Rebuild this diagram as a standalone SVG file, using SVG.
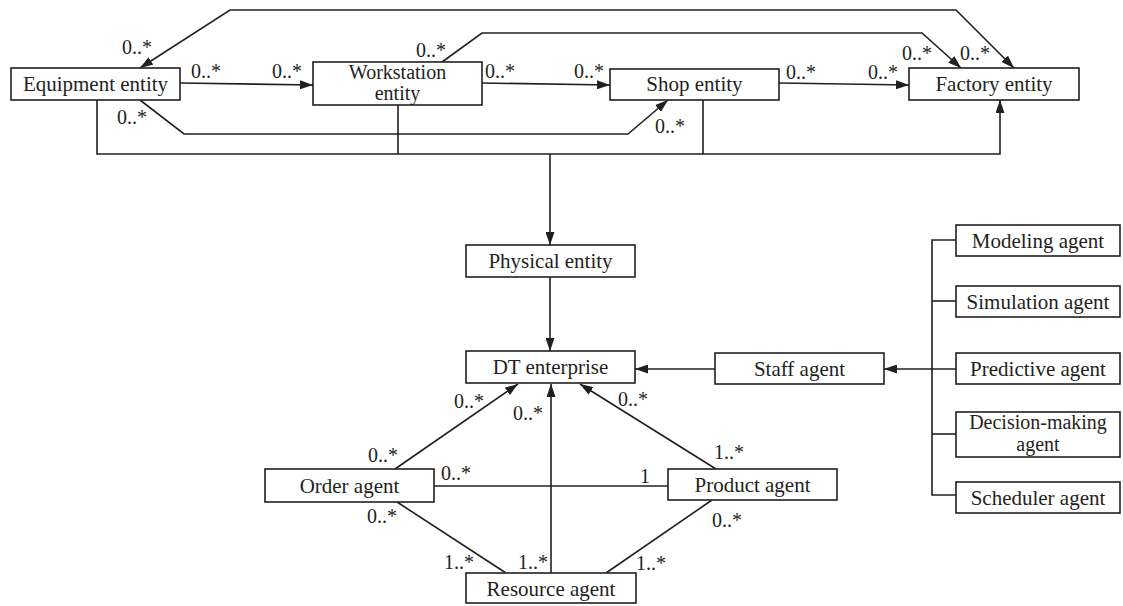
<svg xmlns="http://www.w3.org/2000/svg" width="1123" height="606" viewBox="0 0 1123 606">
<style>
.box{fill:#fff;stroke:#231f20;stroke-width:1.6}
text{font-family:'Liberation Serif','DejaVu Serif',serif;fill:#231f20}
.t{font-size:21px;text-anchor:middle}
.s{font-size:20px;text-anchor:middle}
.m{font-size:20px}
.c{fill:none;stroke:#231f20;stroke-width:1.6}
.a{marker-end:url(#ah)}
</style>
<defs>
<marker id="ah" markerUnits="userSpaceOnUse" markerWidth="14" markerHeight="9" refX="13" refY="4.5" orient="auto-start-reverse"><path d="M0,0 L13,4.5 L0,9 z" fill="#231f20"/></marker>
</defs>
<rect width="1123" height="606" fill="#fff"/>
<g id="connectors">
<polyline class="c a" points="1014,68 956,10 230,10 140,68" style="marker-start:url(#ah)"/>
<polyline class="c a" points="442,62 482,33 922,33 961,68"/>
<polyline class="c a" points="140,100 184,134 628,134 668,100"/>
<polyline class="c a" points="97,100 97,154 1000,154 1000,100"/>
<line class="c" x1="398" y1="105" x2="398" y2="154"/>
<line class="c" x1="703" y1="100" x2="703" y2="154"/>
<line class="c a" x1="550" y1="154" x2="550" y2="245"/>
<line class="c a" x1="180" y1="83" x2="313" y2="85"/>
<line class="c a" x1="482" y1="83" x2="610" y2="85"/>
<line class="c a" x1="779" y1="83" x2="909" y2="85"/>
<line class="c a" x1="550" y1="277" x2="550" y2="351"/>
<line class="c a" x1="715" y1="369" x2="635" y2="369"/>
<line class="c a" x1="956" y1="369" x2="884" y2="369"/>
<polyline class="c" points="956,240 932,240 932,495 956,495"/>
<line class="c" x1="932" y1="301" x2="956" y2="301"/>
<line class="c" x1="932" y1="434" x2="956" y2="434"/>
<line class="c a" x1="395" y1="469" x2="518" y2="384"/>
<line class="c a" x1="551" y1="573" x2="551" y2="384"/>
<line class="c a" x1="716" y1="469" x2="580" y2="384"/>
<line class="c" x1="434" y1="486" x2="668" y2="486"/>
<line class="c" x1="397" y1="502" x2="506" y2="573"/>
<line class="c" x1="712" y1="500" x2="606" y2="573"/>
</g>
<g id="equipment"><rect class="box" x="11" y="68" width="169" height="32"/><text class="t" x="95.5" y="91">Equipment entity</text></g>
<g id="workstation"><rect class="box" x="313" y="62" width="169" height="43"/><text class="s" x="397.5" y="79">Workstation</text><text class="s" x="397.5" y="100">entity</text></g>
<g id="shop"><rect class="box" x="610" y="69" width="169" height="31"/><text class="t" x="694.5" y="91">Shop entity</text></g>
<g id="factory"><rect class="box" x="909" y="68" width="170" height="32"/><text class="t" x="994" y="91">Factory entity</text></g>
<g id="physical"><rect class="box" x="466" y="245" width="169" height="32"/><text class="t" x="550.5" y="268">Physical entity</text></g>
<g id="dt"><rect class="box" x="466" y="351" width="169" height="32"/><text class="t" x="550.5" y="374">DT enterprise</text></g>
<g id="staff"><rect class="box" x="715" y="353" width="169" height="31"/><text class="t" x="799.5" y="376">Staff agent</text></g>
<g id="modeling"><rect class="box" x="956" y="225" width="164" height="31"/><text class="t" x="1038" y="248">Modeling agent</text></g>
<g id="simulation"><rect class="box" x="956" y="286" width="164" height="31"/><text class="t" x="1038" y="309">Simulation agent</text></g>
<g id="predictive"><rect class="box" x="956" y="353" width="164" height="31"/><text class="t" x="1038" y="376">Predictive agent</text></g>
<g id="decision"><rect class="box" x="956" y="412" width="164" height="45"/><text class="s" x="1038" y="429">Decision-making</text><text class="s" x="1038" y="451">agent</text></g>
<g id="scheduler"><rect class="box" x="956" y="482" width="164" height="31"/><text class="t" x="1038" y="505">Scheduler agent</text></g>
<g id="order"><rect class="box" x="265" y="469" width="169" height="33"/><text class="t" x="349.5" y="493">Order agent</text></g>
<g id="product"><rect class="box" x="668" y="469" width="169" height="31"/><text class="t" x="752.5" y="492">Product agent</text></g>
<g id="resource"><rect class="box" x="466" y="573" width="170" height="30"/><text class="t" x="551" y="596">Resource agent</text></g>
<g id="labels">
<text class="m" x="122" y="54">0..*</text>
<text class="m" x="191" y="78">0..*</text>
<text class="m" x="272" y="78">0..*</text>
<text class="m" x="117" y="124">0..*</text>
<text class="m" x="416" y="57">0..*</text>
<text class="m" x="485" y="78">0..*</text>
<text class="m" x="574" y="78">0..*</text>
<text class="m" x="655" y="133">0..*</text>
<text class="m" x="786" y="79">0..*</text>
<text class="m" x="868" y="79">0..*</text>
<text class="m" x="902" y="60">0..*</text>
<text class="m" x="960" y="60">0..*</text>
<text class="m" x="368" y="462">0..*</text>
<text class="m" x="454" y="408">0..*</text>
<text class="m" x="513" y="420">0..*</text>
<text class="m" x="441" y="480">0..*</text>
<text class="m" x="367" y="523">0..*</text>
<text class="m" x="444" y="569">1..*</text>
<text class="m" x="518" y="569">1..*</text>
<text class="m" x="618" y="406">0..*</text>
<text class="m" x="714" y="459">1..*</text>
<text class="m" x="640" y="483">1</text>
<text class="m" x="712" y="527">0..*</text>
<text class="m" x="636" y="570">1..*</text>
</g>
</svg>
